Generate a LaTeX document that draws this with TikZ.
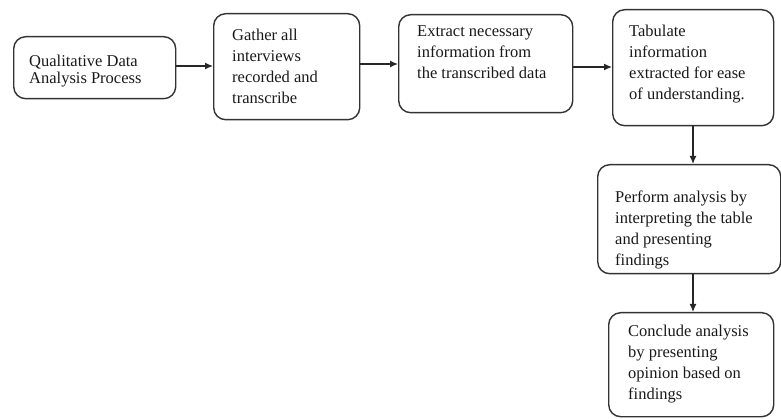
\documentclass[tikz,border=0pt]{standalone}
\usepackage{fontspec}
\setmainfont{Liberation Serif}
\usetikzlibrary{arrows.meta}
\begin{document}
\begin{tikzpicture}[x=1pt,y=-1pt,
  box/.style={draw=black!80, line width=1.4pt, rounded corners=12pt, anchor=north west,
    inner sep=0pt},
  txt/.style={anchor=north west, align=left, inner sep=0pt,
    font=\fontsize{16.5}{21}\selectfont, text=black!90},
  conn/.style={draw=black!85, line width=1.3pt, -{Latex[length=8pt,width=7pt]}}]
\useasboundingbox (0,0) rectangle (781,419);
% boxes
\node[box, minimum width=162pt, minimum height=62pt] (b1) at (13,36) {};
\node[box, minimum width=146pt, minimum height=106pt] (b2) at (213,13) {};
\node[box, minimum width=174pt, minimum height=98pt] (b3) at (398,14) {};
\node[box, minimum width=161pt, minimum height=116pt] (b4) at (612,9) {};
\node[box, minimum width=183pt, minimum height=109pt] (b5) at (597,164) {};
\node[box, minimum width=165pt, minimum height=104pt] (b6) at (608,312) {};
% texts
\node[txt, font=\fontsize{16.5}{17}\selectfont] (t1) at (29,54.5) {Qualitative Data\\Analysis Process};
\node[txt] (t2) at (232,28.5) {Gather all\\interviews\\recorded and\\transcribe};
\node[txt] (t3) at (417,25.5) {Extract necessary\\information from\\the transcribed data};
\node[txt] (t4) at (629,24.5) {Tabulate\\information\\extracted for ease\\of understanding.};
\node[txt] (t5) at (615,190.5) {Perform analysis by\\interpreting the table\\and presenting\\findings};
\node[txt] (t6) at (628,325) {Conclude analysis\\by presenting\\opinion based on\\findings};
% connectors
\draw[conn] (b1.east |- 0,66) -- (b2.west |- 0,66);
\draw[conn] (b2.east |- 0,64) -- (b3.west |- 0,64);
\draw[conn] (b3.east |- 0,67) -- (b4.west |- 0,67);
\draw[conn] (b4.south -| 693,0) -- (b5.north -| 693,0);
\draw[conn] (b5.south -| 693,0) -- (b6.north -| 693,0);
\end{tikzpicture}
\end{document}
